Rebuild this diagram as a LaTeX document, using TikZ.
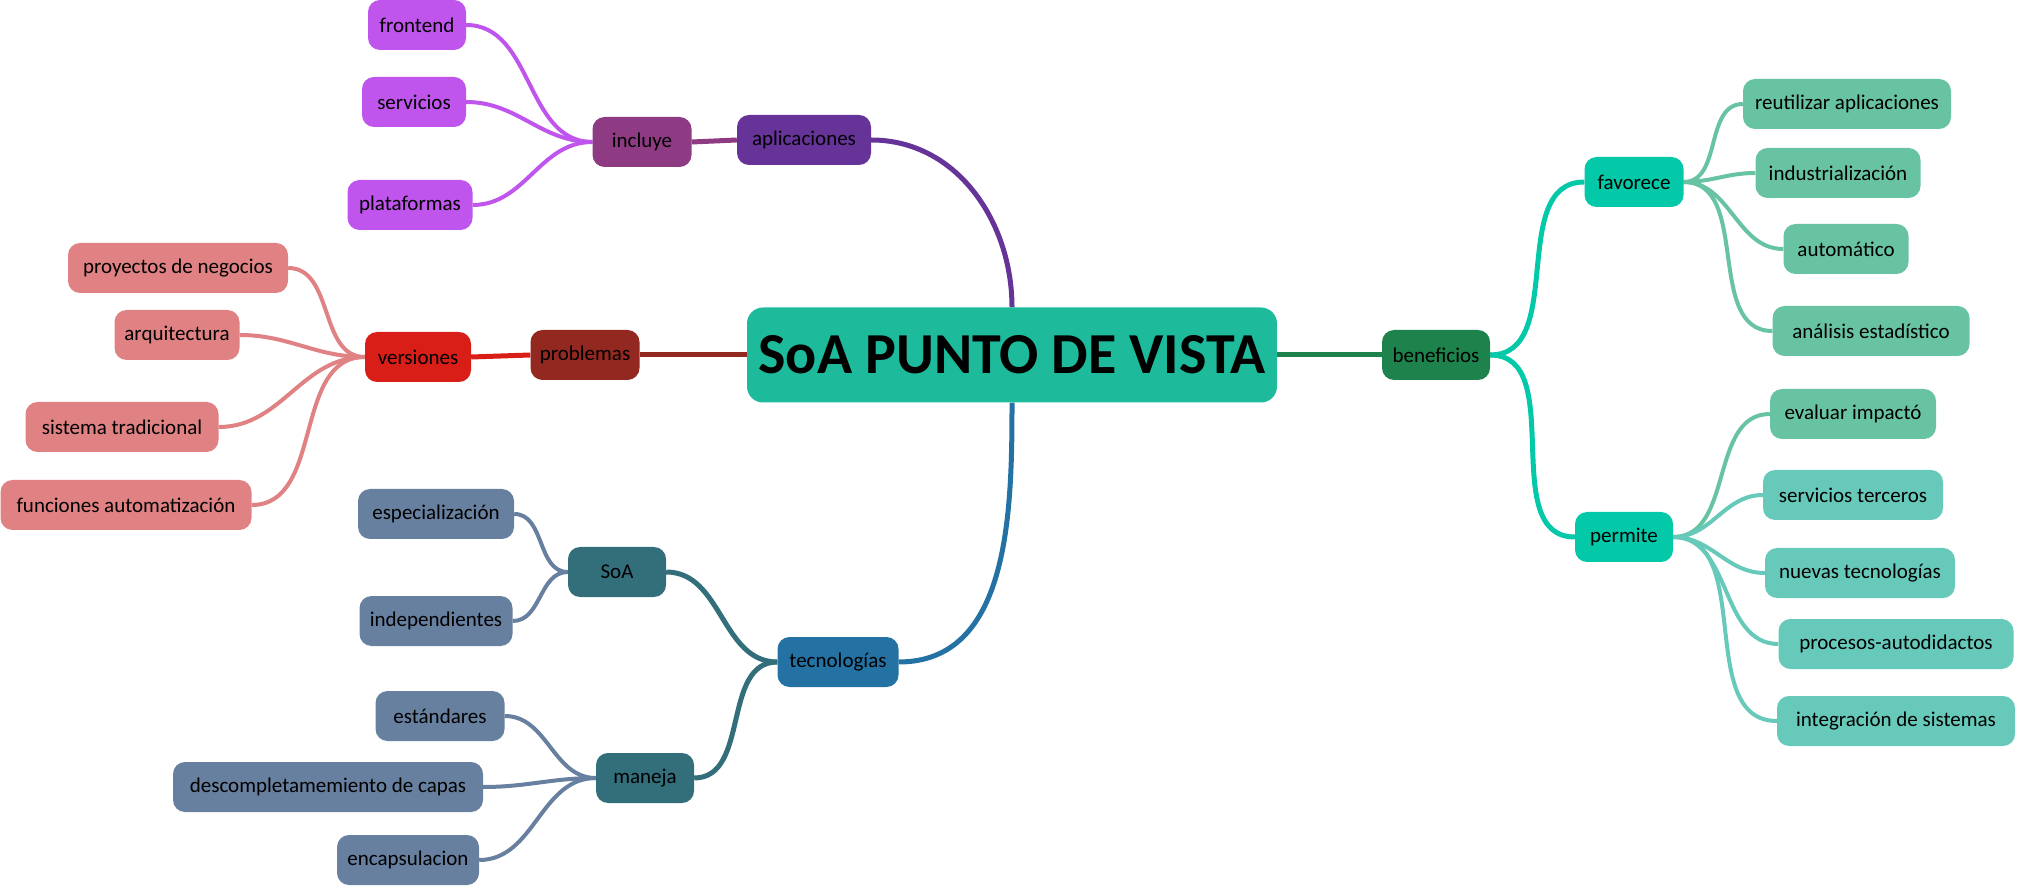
\documentclass[tikz,border=0pt]{standalone}
\usepackage{fontspec}
\setmainfont{Carlito}
\usepackage{xcolor}
\usepackage{tikz}
\usetikzlibrary{backgrounds}

\definecolor{centro}{HTML}{1DBB9C}
\definecolor{apli}{HTML}{663399}
\definecolor{incl}{HTML}{8E3B84}
\definecolor{lila}{HTML}{BF55EC}
\definecolor{prob}{HTML}{922820}
\definecolor{vers}{HTML}{D91E18}
\definecolor{rosa}{HTML}{E08283}
\definecolor{tecno}{HTML}{2471A3}
\definecolor{petroleo}{HTML}{336E7B}
\definecolor{pizarra}{HTML}{67809F}
\definecolor{bene}{HTML}{1E824C}
\definecolor{turquesa}{HTML}{03C9A9}
\definecolor{menta}{HTML}{68C3A3}
\definecolor{agua}{HTML}{66C9BA}

\begin{document}
\begin{tikzpicture}[x=1pt,y=1pt,font=\fontsize{21}{23}\selectfont]
\tikzstyle{blk}=[rounded corners=12pt,minimum height=50pt,inner xsep=6pt,align=center,text=black]
\tikzstyle{lnk}=[line width=5pt]
\tikzstyle{leaf}=[line width=4pt]
\useasboundingbox (0,0) rectangle (2018,887);
% centre
\node[blk,fill=centro,minimum width=530pt,minimum height=95pt,rounded corners=16pt,font=\fontsize{58}{62}\selectfont\bfseries] (centro) at (1012,532) {SoA PUNTO DE VISTA};
% aplicaciones
\node[blk,fill=apli,minimum width=134pt] (aplicaciones) at (804,747) {aplicaciones};
\node[blk,fill=incl,minimum width=99pt] (incluye) at (642,745) {incluye};
\node[blk,fill=lila,minimum width=98pt] (frontend) at (417,862) {frontend};
\node[blk,fill=lila,minimum width=104pt] (servicios) at (414,785) {servicios};
\node[blk,fill=lila,minimum width=125pt] (plataformas) at (410,682) {plataformas};
% problemas
\node[blk,fill=prob,minimum width=109pt] (problemas) at (585,532) {problemas};
\node[blk,fill=vers,minimum width=106pt] (versiones) at (418,530) {versiones};
\node[blk,fill=rosa,minimum width=220pt] (proyectos) at (178,619) {proyectos de negocios};
\node[blk,fill=rosa,minimum width=125pt] (arquitectura) at (177,552) {arquitectura};
\node[blk,fill=rosa,minimum width=193pt] (sistema) at (122,460) {sistema tradicional};
\node[blk,fill=rosa,minimum width=251pt] (funciones) at (126,382) {funciones automatización};
% tecnologias
\node[blk,fill=tecno,minimum width=121pt] (tecnologias) at (838,225) {tecnologías};
\node[blk,fill=petroleo,minimum width=98pt] (soa) at (617,315) {SoA};
\node[blk,fill=pizarra,minimum width=156pt] (especializacion) at (436,373) {especialización};
\node[blk,fill=pizarra,minimum width=153pt] (independientes) at (436,266) {independientes};
\node[blk,fill=petroleo,minimum width=98pt] (maneja) at (645,109) {maneja};
\node[blk,fill=pizarra,minimum width=129pt] (estandares) at (440,171) {estándares};
\node[blk,fill=pizarra,minimum width=310pt] (capas) at (328,100) {descompletamemiento de capas};
\node[blk,fill=pizarra,minimum width=142pt] (encapsulacion) at (408,27) {encapsulacion};
% beneficios
\node[blk,fill=bene,minimum width=108pt] (beneficios) at (1436,532) {beneficios};
\node[blk,fill=turquesa,minimum width=99pt] (favorece) at (1634,705) {favorece};
\node[blk,fill=menta,minimum width=208pt] (reutilizar) at (1847,783) {reutilizar aplicaciones};
\node[blk,fill=menta,minimum width=165pt] (industrial) at (1838,714) {industrialización};
\node[blk,fill=menta,minimum width=125pt] (automatico) at (1846,638) {automático};
\node[blk,fill=menta,minimum width=197pt] (analisis) at (1871,556) {análisis estadístico};
\node[blk,fill=turquesa,minimum width=98pt] (permite) at (1624,350) {permite};
\node[blk,fill=menta,minimum width=166pt] (evaluar) at (1853,473) {evaluar impactó};
\node[blk,fill=agua,minimum width=180pt] (terceros) at (1853,392) {servicios terceros};
\node[blk,fill=agua,minimum width=190pt] (nuevas) at (1860,314) {nuevas tecnologías};
\node[blk,fill=agua,minimum width=235pt] (procesos) at (1896,243) {procesos-autodidactos};
\node[blk,fill=agua,minimum width=238pt] (integracion) at (1896,166) {integración de sistemas};

\begin{scope}[on background layer]
% ramas principales
\draw[lnk,apli] (centro.north) to[out=90,in=0] (aplicaciones.east);
\draw[lnk,prob] (centro.west) -- (problemas.east);
\draw[lnk,tecno] (centro.south) to[out=-90,in=0] (tecnologias.east);
\draw[lnk,bene] (centro.east) -- (beneficios.west);
% segundo nivel
\draw[lnk,incl] (aplicaciones.west) -- (incluye.east);
\draw[lnk,vers] (problemas.west) -- (versiones.east);
\draw[lnk,petroleo] (tecnologias.west) to[out=180,in=0] (soa.east);
\draw[lnk,petroleo] (tecnologias.west) to[out=180,in=0] (maneja.east);
\draw[lnk,turquesa] (beneficios.east) to[out=0,in=180] (favorece.west);
\draw[lnk,turquesa] (beneficios.east) to[out=0,in=180] (permite.west);
% hojas
\draw[leaf,lila] (incluye.west) to[out=180,in=0] (frontend.east);
\draw[leaf,lila] (incluye.west) to[out=180,in=0] (servicios.east);
\draw[leaf,lila] (incluye.west) to[out=180,in=0] (plataformas.east);
\draw[leaf,rosa] (versiones.west) to[out=180,in=0] (proyectos.east);
\draw[leaf,rosa] (versiones.west) to[out=180,in=0] (arquitectura.east);
\draw[leaf,rosa] (versiones.west) to[out=180,in=0] (sistema.east);
\draw[leaf,rosa] (versiones.west) to[out=180,in=0] (funciones.east);
\draw[leaf,pizarra] (soa.west) to[out=180,in=0] (especializacion.east);
\draw[leaf,pizarra] (soa.west) to[out=180,in=0] (independientes.east);
\draw[leaf,pizarra] (maneja.west) to[out=180,in=0] (estandares.east);
\draw[leaf,pizarra] (maneja.west) to[out=180,in=0] (capas.east);
\draw[leaf,pizarra] (maneja.west) to[out=180,in=0] (encapsulacion.east);
\draw[leaf,menta] (favorece.east) to[out=0,in=180] (reutilizar.west);
\draw[leaf,menta] (favorece.east) to[out=0,in=180] (industrial.west);
\draw[leaf,menta] (favorece.east) to[out=0,in=180] (automatico.west);
\draw[leaf,menta] (favorece.east) to[out=0,in=180] (analisis.west);
\draw[leaf,menta] (permite.east) to[out=0,in=180] (evaluar.west);
\draw[leaf,agua] (permite.east) to[out=0,in=180] (terceros.west);
\draw[leaf,agua] (permite.east) to[out=0,in=180] (nuevas.west);
\draw[leaf,agua] (permite.east) to[out=0,in=180] (procesos.west);
\draw[leaf,agua] (permite.east) to[out=0,in=180] (integracion.west);
\end{scope}
\end{tikzpicture}
\end{document}
